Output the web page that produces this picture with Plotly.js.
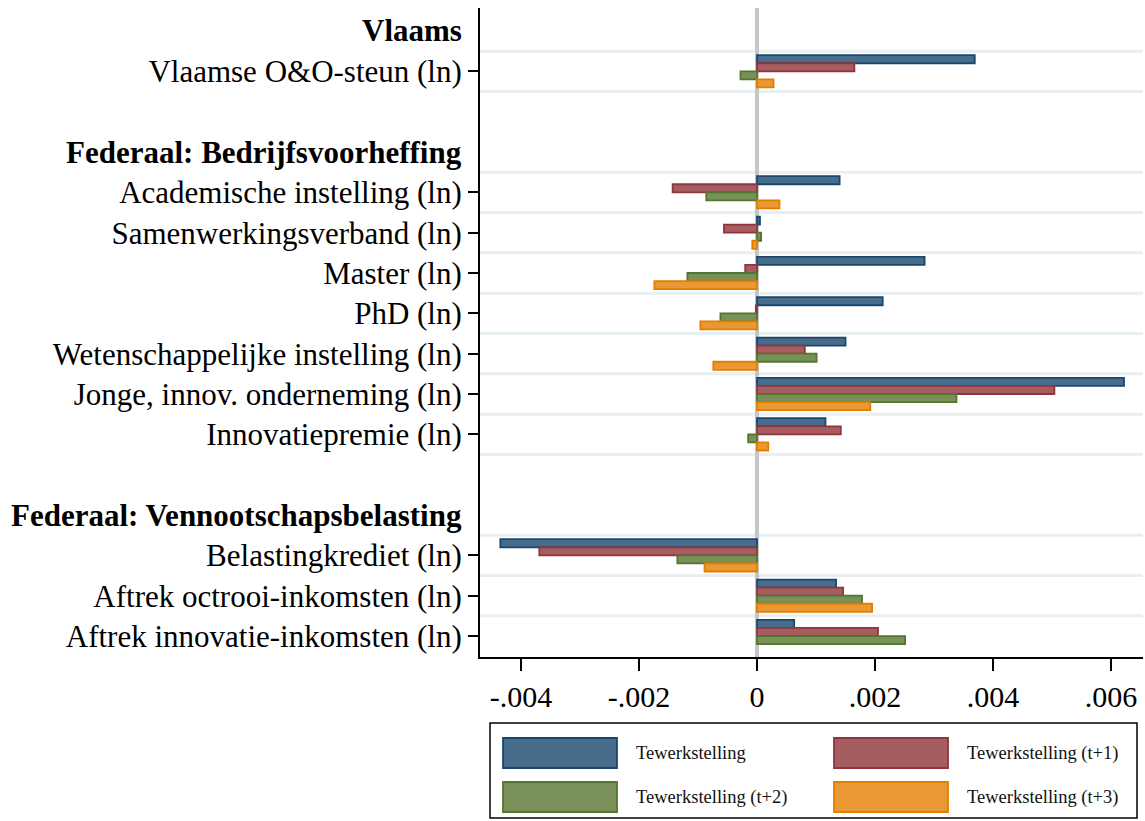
<!DOCTYPE html>
<html>
<head>
<meta charset="utf-8">
<script src="https://cdn.plot.ly/plotly-3.0.1.min.js"></script>
<style>html,body{margin:0;padding:0;background:#fff;}#chart{width:1145px;height:821px;}</style>
</head>
<body>
<div id="chart"></div>
<script>
// ---- data ----
const groups = ['Vlaams', 'Federaal: Bedrijfsvoorheffing', 'Federaal: Vennootschapsbelasting'];
const categories = [
  'Vlaamse O&O-steun (ln)',
  'Academische instelling (ln)',
  'Samenwerkingsverband (ln)',
  'Master (ln)',
  'PhD (ln)',
  'Wetenschappelijke instelling (ln)',
  'Jonge, innov. onderneming (ln)',
  'Innovatiepremie (ln)',
  'Belastingkrediet (ln)',
  'Aftrek octrooi-inkomsten (ln)',
  'Aftrek innovatie-inkomsten (ln)'
];
const groupOf = [0, 1, 1, 1, 1, 1, 1, 1, 2, 2, 2];
const seriesNames = ['Tewerkstelling', 'Tewerkstelling (t+1)', 'Tewerkstelling (t+2)', 'Tewerkstelling (t+3)'];
const tewerk  = [0.00369, 0.00140, 0.00005, 0.00284, 0.00213, 0.00150, 0.00622, 0.00116, -0.00435, 0.00134, 0.00063];
const tewerk1 = [0.00165, -0.00143, -0.00056, -0.00020, -0.00002, 0.00081, 0.00504, 0.00142, -0.00369, 0.00146, 0.00205];
const tewerk2 = [-0.00028, -0.00086, 0.00007, -0.00118, -0.00062, 0.00101, 0.00338, -0.00015, -0.00135, 0.00178, 0.00251];
const tewerk3 = [0.00028, 0.00038, -0.00008, -0.00174, -0.00096, -0.00074, 0.00192, 0.00019, -0.00089, 0.00195, null];
const xTickVals = [-0.004, -0.002, 0, 0.002, 0.004, 0.006];
const xTickText = ['-.004', '-.002', '0', '.002', '.004', '.006'];

// ---- styling ----
const fills = ['#486c8c', '#a65d62', '#779159', '#e99833'];
const lines = ['#1a476f', '#90353b', '#55752f', '#e37e00'];
const FONT = 'Liberation Serif, Times New Roman, serif';

// ---- row layout: header slot, items, blank slot between groups ----
const rowOf = [];
const headerRow = [];
let slot = 0;
groups.forEach((g, gi) => {
  if (gi > 0) slot += 1;
  headerRow.push(slot);
  slot += 1;
  categories.forEach((c, ci) => {
    if (groupOf[ci] === gi) { rowOf[ci] = slot; slot += 1; }
  });
});
const lastRow = slot - 1;

const allSeries = [tewerk, tewerk1, tewerk2, tewerk3];
const traces = allSeries.map((vals, si) => ({
  type: 'bar',
  orientation: 'h',
  name: seriesNames[si],
  x: vals,
  y: rowOf,
  marker: {color: fills[si], line: {color: lines[si], width: 1.8}},
  showlegend: false,
  hoverinfo: 'x+name'
}));

// plot area geometry (pixels) for legend placement
const W = 1145, H = 821;
const M = {l: 480, r: 2, t: 8, b: 164};
const pw = W - M.l - M.r, ph = H - M.t - M.b;
const px = x => (x - M.l) / pw;
const py = y => (H - M.b - y) / ph;

const shapes = [];
// light separator lines around data rows
const sepSet = new Set();
rowOf.forEach(r => { sepSet.add(r - 0.5); sepSet.add(r + 0.5); });
[...sepSet].forEach(v => {
  if (v >= lastRow + 0.5) return;
  shapes.push({type: 'line', xref: 'paper', yref: 'y', x0: 0, x1: 1, y0: v, y1: v,
    line: {color: '#e7eff2', width: 3}, layer: 'below'});
});
// legend box
shapes.push({type: 'rect', xref: 'paper', yref: 'paper', x0: px(490), x1: px(1137), y0: py(723), y1: py(818),
  line: {color: '#000', width: 1.5}, fillcolor: 'rgba(0,0,0,0)'});
const legPos = [[503, 738], [834, 738], [503, 782], [834, 782]];
const annotations = [];
seriesNames.forEach((n, si) => {
  const [lx, ly] = legPos[si];
  shapes.push({type: 'rect', xref: 'paper', yref: 'paper', x0: px(lx), x1: px(lx + 114), y0: py(ly), y1: py(ly + 30),
    fillcolor: fills[si], line: {color: lines[si], width: 1.8}});
  annotations.push({xref: 'paper', yref: 'paper', x: px(lx + 131), y: py(ly + 15), xanchor: 'left', yanchor: 'middle',
    text: n, showarrow: false, font: {family: FONT, size: 18.5, color: '#111'}});
});
// group headers (no tick marks)
groups.forEach((g, gi) => {
  annotations.push({xref: 'paper', yref: 'y', x: 0, xshift: -16, y: headerRow[gi], xanchor: 'right', yanchor: 'middle',
    text: '<b>' + g + '</b>', showarrow: false, font: {family: FONT, size: 31, color: '#000'}});
});

const layout = {
  width: W, height: H,
  margin: M,
  paper_bgcolor: '#fff', plot_bgcolor: '#fff',
  barmode: 'group', bargap: 0.2, bargroupgap: 0,
  font: {family: FONT, color: '#000'},
  xaxis: {
    range: [-0.004695, 0.006542],
    tickvals: xTickVals, ticktext: xTickText,
    showgrid: false,
    zeroline: true, zerolinecolor: '#c6c6c6', zerolinewidth: 4,
    showline: true, linecolor: '#000', linewidth: 2,
    ticks: 'outside', ticklen: 12, tickwidth: 2, tickcolor: '#000',
    ticklabelstandoff: 0,
    tickfont: {family: FONT, size: 30, color: '#000'},
    fixedrange: true
  },
  yaxis: {
    range: [lastRow + 0.52, -0.57],
    tickvals: rowOf, ticktext: categories,
    showgrid: false, zeroline: false,
    showline: true, linecolor: '#000', linewidth: 2,
    ticks: 'outside', ticklen: 10, tickwidth: 2, tickcolor: '#000',
    tickfont: {family: FONT, size: 31, color: '#000'},
    fixedrange: true
  },
  shapes: shapes,
  annotations: annotations,
  showlegend: false
};

Plotly.newPlot('chart', traces, layout, {displayModeBar: false, staticPlot: true});
</script>
</body>
</html>
